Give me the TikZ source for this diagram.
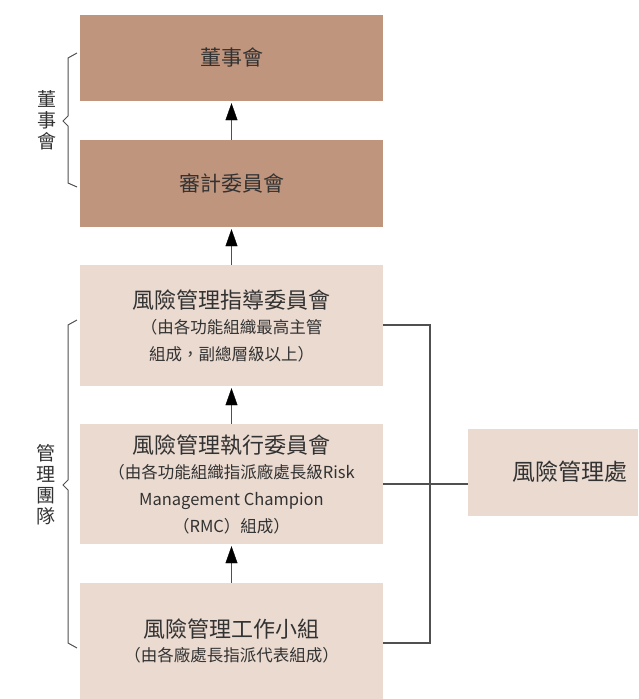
\documentclass[tikz,border=0pt]{standalone}
\usepackage{fontspec}
\newfontfamily\cjk{Noto Sans CJK TC}
\usetikzlibrary{arrows.meta}
\definecolor{boardbrown}{RGB}{192,149,126}
\definecolor{teampink}{RGB}{234,218,208}
\definecolor{inkgray}{RGB}{50,50,50}
\definecolor{linegray}{RGB}{80,80,80}
\newcommand\subfont{\fontsize{16.5}{25}\selectfont}
\begin{document}
\begin{tikzpicture}[
x=1pt,
y=-1pt,
font=\cjk,
every node/.style={text=inkgray, inner sep=0pt},
boardbox/.style={fill=boardbrown, minimum width=303pt, align=center, font=\cjk\fontsize{21}{25}\selectfont},
teambox/.style={fill=teampink, minimum width=303pt, align=center, font=\cjk\fontsize{22}{27}\selectfont},
arr/.style={line width=1.5pt, linegray, shorten >=2pt, -{Triangle[width=12pt, length=17pt, color=black, line width=0.3pt]}},
link/.style={line width=1.2pt, linegray},
brace/.style={line width=1pt, linegray},
side/.style={align=center, font=\cjk\fontsize{19}{21}\selectfont},
]

	\useasboundingbox (0,0) rectangle (638,699);

	%%%%%%%%%%%%%%%%%%%%%%%%%%%%
	%Boxes
	%%%%%%%%%%%%%%%%%%%%%%%%%%%%

	\node [boardbox, minimum height=86pt] (board) at (231.5,58) {董事會};
	\node [boardbox, minimum height=87pt] (audit) at (231.5,183.5) {審計委員會};

	\node [teambox, minimum height=121pt] (steer) at (231.5,325.5)
		{風險管理指導委員會\\[-2pt]
		\subfont （由各功能組織最高主管\\ \subfont 組成，副總層級以上）};
	\node [teambox, minimum height=120pt] (exec) at (231.5,484)
		{風險管理執行委員會\\[-2pt]
		\subfont （由各功能組織指派廠處長級Risk\\ \subfont Management Champion\\ \subfont （RMC）組成）};
	\node [teambox, minimum height=116pt] (work) at (231.5,641)
		{風險管理工作小組\\[-3pt]
		\subfont （由各廠處長指派代表組成）};

	\node [fill=teampink, minimum width=170pt, minimum height=87pt] (rmo) at (553,472.5) {};
	\node [font=\cjk\fontsize{23}{27}\selectfont] (rmotext) at (570,472) {風險管理處};

	%%%%%%%%%%%%%%%%%%%%%%%%%%%%
	%Arrows
	%%%%%%%%%%%%%%%%%%%%%%%%%%%%

	\draw [arr] (audit) -- (board);
	\draw [arr] (steer) -- (audit);
	\draw [arr] (exec) -- (steer);
	\draw [arr] (work) -- (exec);

	%%%%%%%%%%%%%%%%%%%%%%%%%%%%
	%Connectors to risk office
	%%%%%%%%%%%%%%%%%%%%%%%%%%%%

	\coordinate (bustop) at (430,325);
	\coordinate (busbot) at (430,643);
	\draw [link] (steer.east |- bustop) -- (bustop) -- (busbot) -- (work.east |- busbot);
	\draw [link] (exec.east) -- (exec.east -| rmo.west);

	%%%%%%%%%%%%%%%%%%%%%%%%%%%%
	%Side brackets
	%%%%%%%%%%%%%%%%%%%%%%%%%%%%

	\draw [brace] (77,53) -- (68,58) -- (68,116) -- (63,121) -- (68,126) -- (68,183) -- (77,187);
	\node [side] (boardlabel) at (47,120) {董\\事\\會};

	\draw [brace] (77,320) -- (68,325) -- (68,480) -- (63,485) -- (68,490) -- (68,643) -- (77,648);
	\node [side] (teamlabel) at (46,485) {管\\理\\團\\隊};

\end{tikzpicture}
\end{document}
